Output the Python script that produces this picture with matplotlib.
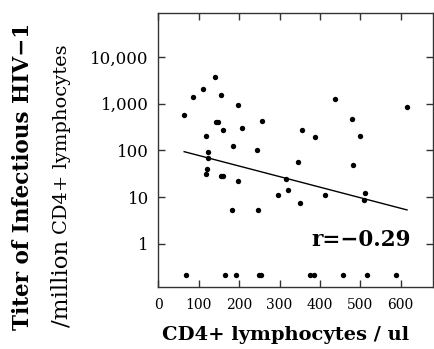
import matplotlib
matplotlib.use("Agg")
import matplotlib.pyplot as plt
import numpy as np

# CD4+ lymphocytes / ul  and  titer of infectious HIV-1 per million CD4+ cells
cd4_detected = [139.6, 110.6, 84.4, 154.5, 197.3, 63.6, 142.1, 146.3, 255.2, 158.7,
                205.7, 117.3, 184.9, 242.8, 121.5, 121.5, 438.4, 479.5, 355.7, 387.1,
                498.5, 345.0, 615.6, 120.5, 116.6, 153.7, 158.7, 197.3, 181.7, 246.0,
                482.9, 316.1, 319.6, 294.8, 351.7, 413.6, 512.6, 509.2]
titer_detected = [3790, 2040, 1375, 1540, 955, 566, 413, 413, 421, 279,
                  308, 207, 123, 101, 94, 70, 1245, 465, 270, 197,
                  201, 57.6, 865, 39.6, 31, 28.5, 28.5, 22.6, 5.26, 5.26,
                  49, 24.2, 14.3, 11.2, 7.6, 11.2, 12.2, 8.9]
# not detected (plotted below 1)
cd4_undetected = [68.6, 165.1, 191.6, 249.3, 253.5, 376.5, 384.7, 457.2, 516.6, 588.0]
titer_undetected = [0.22] * len(cd4_undetected)

# regression line endpoints
fit_x = [63.6, 615.6]
fit_y = [94, 5.34]
r_text = "r=\u22120.29"

xticks = [0, 100, 200, 300, 400, 500, 600]
yticks = [1, 10, 100, 1000, 10000]
ytick_labels = ["1", "10", "100", "1,000", "10,000"]

SERIF = "DejaVu Serif"
fig = plt.figure(figsize=(4.35, 3.49), dpi=100)
W, H = 435, 349
left, right, top, bottom = 158.5, 433, 12.5, 287
ax = fig.add_axes([left / W, 1 - bottom / H, (right - left) / W, (bottom - top) / H])

ax.set_yscale("log")
ax.set_xlim(0, 680)
ax.set_ylim(0.12, 89000)

ax.scatter(cd4_detected, titer_detected, s=15, color="black", zorder=3, linewidths=0)
ax.scatter(cd4_undetected, titer_undetected, s=15, color="black", zorder=3, linewidths=0)
ax.plot(fit_x, fit_y, color="black", lw=1.0)

ax.set_xticks(xticks)
ax.set_xticklabels([str(v) for v in xticks], family=SERIF, fontsize=10)
ax.set_yticks(yticks)
ax.set_yticklabels(ytick_labels, family=SERIF, fontsize=12)
ax.yaxis.set_minor_locator(matplotlib.ticker.NullLocator())
ax.tick_params(direction="in", length=5, width=1, color="#333333",
               top=True, right=True, labeltop=False, labelright=False)
ax.tick_params(axis="x", pad=8)
ax.tick_params(axis="y", pad=7)
for s in ax.spines.values():
    s.set_linewidth(1)
    s.set_color("#333333")

fig.text(361 / W, 1 - 240 / H, r_text, family=SERIF, fontsize=15.5, fontweight="bold",
         ha="center", va="center")

fig.text(23 / W, 1 - 176 / H, "Titer of Infectious HIV\u22121", rotation=90,
         family=SERIF, fontweight="bold", fontsize=15.5, ha="center", va="center")

# second y-label line: "/million" larger, "CD4+ lymphocytes" smaller, shared baseline
base_x = 67 / W
t1 = fig.text(base_x, 1 - 327 / H, "/million", rotation=90, rotation_mode="anchor",
              family=SERIF, fontsize=16.5, ha="left", va="baseline")
fig.canvas.draw()
bb = t1.get_window_extent(fig.canvas.get_renderer())
y_next = (bb.y1 + 6) / H
fig.text(base_x, y_next, "CD4+ lymphocytes", rotation=90, rotation_mode="anchor",
         family=SERIF, fontsize=14, ha="left", va="baseline")

fig.text(286 / W, 1 - 335 / H, "CD4+ lymphocytes / ul",
         family=SERIF, fontweight="bold", fontsize=14, ha="center", va="center")

fig.savefig("out.png", dpi=100)
